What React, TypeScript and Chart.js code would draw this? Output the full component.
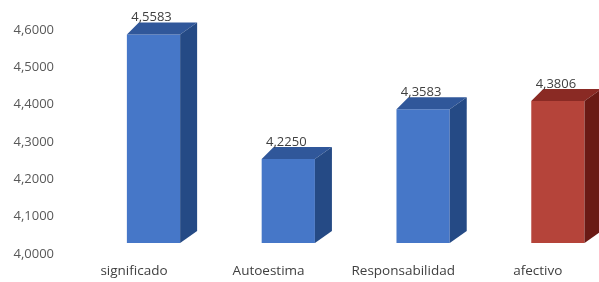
import React, { useEffect, useRef } from "react";
import { Chart, registerables } from "chart.js";

Chart.register(...registerables);

const categories = ["significado", "Autoestima", "Responsabilidad", "afectivo"];
const values = [4.5583, 4.225, 4.3583, 4.3806];
const barPositions = [0, 1, 2, 3];
const yMin = 4.0;
const yMax = 4.6;
const yStep = 0.1;

const frontColors = ["#4677c8", "#4677c8", "#4677c8", "#b5443a"];
const topColors = ["#30579a", "#30579a", "#30579a", "#8a2a24"];
const sideColors = ["#254a85", "#254a85", "#254a85", "#6a1a15"];

const FONT = "'Open Sans', Lato, sans-serif";
const fmt = (v: number) => v.toFixed(4).replace(".", ",");

const threeD = {
  id: "threeD",
  afterDatasetsDraw(chart: any) {
    const ctx = chart.ctx;
    const meta = chart.getDatasetMeta(0);
    ctx.save();
    meta.data.forEach((bar: any, i: number) => {
      const p = bar.getProps(["x", "y", "base", "width"], true);
      const x = p.x;
      const y = p.y;
      const width = p.width;
      const base = Math.min(p.base, chart.chartArea.bottom);
      const l = x - width / 2;
      const r = x + width / 2;
      const dxL = 12;
      const dxR = 17;
      const dy = 12;
      ctx.fillStyle = topColors[i];
      ctx.beginPath();
      ctx.moveTo(l, y);
      ctx.lineTo(r, y);
      ctx.lineTo(r + dxR, y - dy);
      ctx.lineTo(l + dxL, y - dy);
      ctx.closePath();
      ctx.fill();
      ctx.fillStyle = sideColors[i];
      ctx.beginPath();
      ctx.moveTo(r, y);
      ctx.lineTo(r + dxR, y - dy);
      ctx.lineTo(r + dxR, base - dy);
      ctx.lineTo(r, base);
      ctx.closePath();
      ctx.fill();
      ctx.fillStyle = "#404040";
      ctx.font = "13px " + FONT;
      ctx.textAlign = "center";
      ctx.textBaseline = "middle";
      ctx.fillText(fmt(values[i]), x - 2, y - 17);
    });
    ctx.restore();
  },
};

export default function App() {
  const ref = useRef<HTMLCanvasElement>(null);
  useEffect(() => {
    if (!ref.current) return;
    const L = 60;
    const R = 590;
    const barStart = 153.5;
    const barStep = 134.8;
    const lblStart = 134;
    const lblStep = 134.6;
    const noPad = (s: any) => {
      s.paddingLeft = 0;
      s.paddingRight = 0;
      s.paddingTop = 0;
      s.paddingBottom = 0;
    };
    const chart = new Chart(ref.current, {
      type: "bar",
      data: {
        datasets: [
          {
            data: barPositions.map((p, i) => ({ x: p, y: values[i] })),
            backgroundColor: frontColors,
            borderWidth: 0,
            xAxisID: "xb",
            barPercentage: 0.395,
            categoryPercentage: 1,
          } as any,
        ],
      },
      options: {
        animation: false,
        responsive: false,
        devicePixelRatio: 1,
        layout: { padding: { top: 19, right: 599 - R, left: 0, bottom: 0 } },
        plugins: { legend: { display: false }, tooltip: { enabled: false } },
        scales: {
          xb: {
            type: "linear",
            display: false,
            offset: false,
            grid: { offset: false },
            min: (L - barStart) / barStep,
            max: (R - barStart) / barStep,
            afterBuildTicks: (s: any) => {
              s.ticks = barPositions.map((v) => ({ value: v }));
            },
            afterFit: noPad,
          },
          x: {
            type: "linear",
            position: "bottom",
            offset: false,
            min: (L - lblStart) / lblStep,
            max: (R - lblStart) / lblStep,
            afterBuildTicks: (s: any) => {
              s.ticks = categories.map((_, i) => ({ value: i }));
            },
            afterFit: (s: any) => {
              s.height = 39;
              noPad(s);
            },
            grid: { display: false, drawTicks: false, offset: false },
            border: { display: false },
            ticks: {
              padding: 20,
              maxRotation: 0,
              autoSkip: false,
              color: "#404040",
              font: { family: FONT, size: 13.5 },
              callback: (v: any) => categories[Math.round(Number(v))] ?? "",
            },
          },
          y: {
            min: yMin,
            max: yMax,
            afterFit: (s: any) => {
              s.width = L;
              noPad(s);
            },
            grid: { display: false, drawTicks: false },
            border: { display: false },
            ticks: {
              stepSize: yStep,
              padding: 6,
              labelOffset: 11,
              color: "#595959",
              font: { family: FONT, size: 13 },
              callback: (v: any) => fmt(Number(v)),
            },
          },
        },
      },
      plugins: [threeD],
    });
    return () => chart.destroy();
  }, []);
  return (
    <div style={{ position: "absolute", left: 0, top: 0, width: 599, height: 282, background: "#fff" }}>
      <canvas ref={ref} width={599} height={282} />
    </div>
  );
}
